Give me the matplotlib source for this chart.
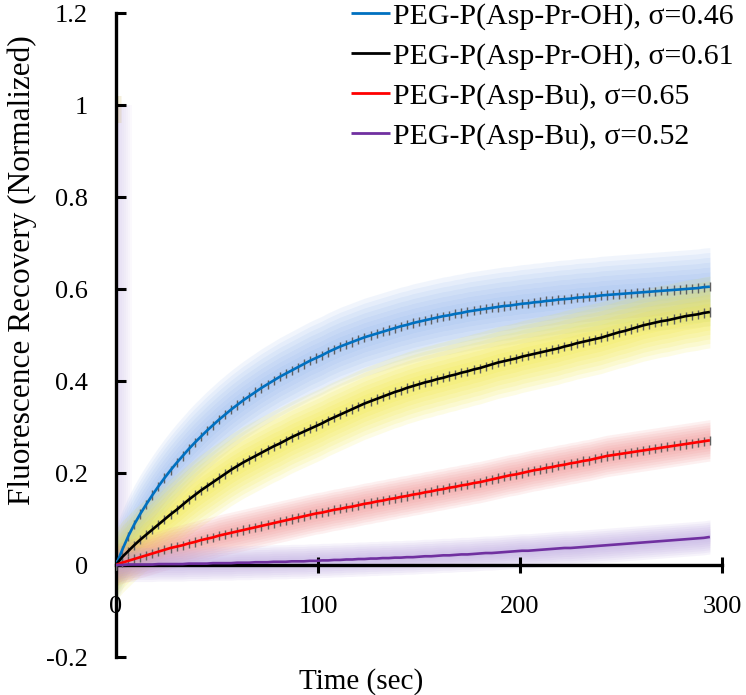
"""FRAP recovery curves: normalized fluorescence recovery vs time"""

import numpy as np
import matplotlib
matplotlib.use("Agg")
import matplotlib.pyplot as plt

plt.rcParams['font.family'] = ['Liberation Serif', 'DejaVu Serif']
plt.rcParams['axes.unicode_minus'] = False

# sampling times (sec), one frame every 3 s
time_s = np.arange(0, 295, 3)

labels = [
    "PEG-P(Asp-Pr-OH), σ=0.46",
    "PEG-P(Asp-Pr-OH), σ=0.61",
    "PEG-P(Asp-Bu), σ=0.65",
    "PEG-P(Asp-Bu), σ=0.52",
]

pr_oh_046 = [
    0.000, 0.032, 0.062, 0.088, 0.111, 0.132, 0.152, 0.171, 0.189, 0.206,
    0.222, 0.237, 0.252, 0.266, 0.279, 0.292, 0.304, 0.316, 0.327, 0.338,
    0.348, 0.358, 0.367, 0.376, 0.385, 0.393, 0.401, 0.409, 0.416, 0.423,
    0.430, 0.437, 0.444, 0.450, 0.456, 0.463, 0.469, 0.475, 0.480, 0.485,
    0.490, 0.495, 0.499, 0.503, 0.507, 0.511, 0.515, 0.519, 0.522, 0.526,
    0.529, 0.532, 0.535, 0.538, 0.541, 0.543, 0.546, 0.548, 0.551, 0.553,
    0.555, 0.557, 0.559, 0.561, 0.563, 0.564, 0.566, 0.568, 0.569, 0.571,
    0.572, 0.574, 0.575, 0.577, 0.578, 0.579, 0.581, 0.582, 0.583, 0.584,
    0.586, 0.587, 0.588, 0.589, 0.590, 0.591, 0.592, 0.593, 0.594, 0.595,
    0.596, 0.597, 0.598, 0.599, 0.600, 0.601, 0.602, 0.604, 0.605,
]

pr_oh_061 = [
    0.000, 0.017, 0.030, 0.043, 0.055, 0.066, 0.077, 0.088, 0.099, 0.110,
    0.120, 0.131, 0.142, 0.152, 0.162, 0.171, 0.180, 0.189, 0.198, 0.207,
    0.215, 0.223, 0.230, 0.237, 0.244, 0.251, 0.258, 0.264, 0.271, 0.278,
    0.284, 0.290, 0.296, 0.302, 0.308, 0.315, 0.321, 0.327, 0.333, 0.339,
    0.345, 0.351, 0.356, 0.361, 0.366, 0.371, 0.376, 0.380, 0.385, 0.389,
    0.393, 0.397, 0.400, 0.404, 0.407, 0.411, 0.414, 0.418, 0.421, 0.425,
    0.428, 0.432, 0.436, 0.440, 0.443, 0.446, 0.449, 0.453, 0.456, 0.459,
    0.462, 0.465, 0.468, 0.471, 0.475, 0.478, 0.482, 0.485, 0.488, 0.491,
    0.494, 0.498, 0.502, 0.506, 0.509, 0.513, 0.517, 0.521, 0.524, 0.527,
    0.530, 0.532, 0.535, 0.538, 0.541, 0.543, 0.545, 0.548, 0.550,
]

bu_065 = [
    0.000, 0.005, 0.009, 0.013, 0.017, 0.021, 0.025, 0.029, 0.033, 0.037,
    0.040, 0.043, 0.047, 0.050, 0.054, 0.057, 0.060, 0.064, 0.067, 0.070,
    0.073, 0.076, 0.079, 0.082, 0.085, 0.088, 0.091, 0.094, 0.097, 0.100,
    0.103, 0.106, 0.109, 0.112, 0.114, 0.117, 0.120, 0.122, 0.125, 0.127,
    0.130, 0.133, 0.135, 0.138, 0.140, 0.143, 0.145, 0.148, 0.150, 0.153,
    0.155, 0.158, 0.160, 0.163, 0.165, 0.168, 0.170, 0.173, 0.175, 0.178,
    0.180, 0.183, 0.186, 0.189, 0.192, 0.195, 0.197, 0.200, 0.203, 0.206,
    0.208, 0.211, 0.213, 0.216, 0.218, 0.221, 0.223, 0.226, 0.228, 0.231,
    0.234, 0.237, 0.239, 0.241, 0.243, 0.245, 0.247, 0.249, 0.251, 0.253,
    0.255, 0.257, 0.259, 0.261, 0.263, 0.265, 0.267, 0.269, 0.271,
]

bu_052 = [
    0.000, 0.000, 0.001, 0.001, 0.001, 0.001, 0.001, 0.002, 0.002, 0.002,
    0.002, 0.002, 0.003, 0.003, 0.003, 0.003, 0.004, 0.004, 0.004, 0.004,
    0.005, 0.005, 0.005, 0.006, 0.006, 0.006, 0.007, 0.007, 0.007, 0.008,
    0.008, 0.008, 0.009, 0.009, 0.010, 0.010, 0.011, 0.011, 0.012, 0.012,
    0.013, 0.013, 0.014, 0.014, 0.015, 0.015, 0.016, 0.016, 0.017, 0.017,
    0.018, 0.019, 0.019, 0.020, 0.021, 0.021, 0.022, 0.023, 0.023, 0.024,
    0.025, 0.026, 0.026, 0.027, 0.028, 0.029, 0.030, 0.031, 0.031, 0.032,
    0.033, 0.034, 0.035, 0.036, 0.037, 0.037, 0.038, 0.039, 0.040, 0.041,
    0.042, 0.043, 0.044, 0.045, 0.046, 0.047, 0.048, 0.049, 0.050, 0.051,
    0.052, 0.053, 0.054, 0.055, 0.056, 0.057, 0.058, 0.059, 0.061,
]

# error bar half-heights and spread of the shaded band, per series
err_bars = [0.010, 0.010, 0.010, 0.0]
band_spread = [0.085, 0.078, 0.045, 0.037]
prebleach = 1.0  # intensity before bleaching (t = 0)

series = [pr_oh_046, pr_oh_061, bu_065, bu_052]
line_colors = ['#0070c0', '#000000', '#ff0000', '#7030a0']
band_colors = ['#8fb4ee', '#f2e830', '#f08a8a', '#b9a4e0']


def glow(ax, x, y, half, color, n=8, alpha=0.12):
    """soft band: stacked fills of growing width"""
    x = np.asarray(x)
    y = np.asarray(y)
    for k in range(1, n + 1):
        w = half * k / n
        ax.fill_between(x, y - w, y + w, color=color, alpha=alpha, lw=0, zorder=1)


fig = plt.figure(figsize=(7.46, 6.95), dpi=100)
ax = fig.add_axes([116 / 746, 1 - 657 / 695, 606 / 746, 644 / 695])

# glow along the bleach drop at t = 0
for k in range(1, 9):
    w = 8 * k / 8
    ax.fill_betweenx([0, prebleach], -w, w, color='#c8b8ea', alpha=0.07, lw=0, zorder=1)
for k in range(1, 5):
    ax.fill_betweenx([prebleach - 0.04, prebleach + 0.02], -3 * k / 4, 3 * k / 4,
                     color='#d8c070', alpha=0.12, lw=0, zorder=1)

for vals, half, bc in zip(series, band_spread, band_colors):
    glow(ax, time_s, vals, half, bc)

for vals, err, lc, lab in zip(series, err_bars, line_colors, labels):
    if err > 0:
        ax.errorbar(time_s, vals, yerr=err, fmt='none', ecolor='#606060',
                    elinewidth=1.0, capsize=0, zorder=3)
    ax.plot(time_s, vals, color=lc, lw=1.9, label=lab, zorder=4,
            solid_capstyle='butt')

ax.set_xlim(0, 300)
ax.set_ylim(-0.2, 1.2)
ax.set_xticks([0, 100, 200, 300])
ax.set_yticks([-0.2, 0, 0.2, 0.4, 0.6, 0.8, 1.0, 1.2])
ax.yaxis.set_major_formatter(plt.FuncFormatter(lambda v, p: f"{v:g}"))

for s in ['top', 'right']:
    ax.spines[s].set_visible(False)
ax.spines['bottom'].set_position(('data', 0))
ax.spines['left'].set_linewidth(2.4)
ax.spines['bottom'].set_linewidth(2.4)

ax.tick_params(axis='y', direction='in', length=7, width=2.2, labelsize=19, pad=20)
ax.tick_params(axis='x', direction='inout', length=12, width=2.2, labelsize=19, pad=16)

ax.set_xlabel('Time (sec)', fontsize=21)
ax.xaxis.set_label_coords(0.405, -0.017)
ax.set_ylabel('Fluorescence Recovery (Normalized)', fontsize=22.5)
ax.yaxis.set_label_coords(-0.13, 0.60)

leg = ax.legend(loc='upper right', bbox_to_anchor=(737 / 746, 1.0),
                bbox_transform=fig.transFigure, frameon=False, fontsize=21.5,
                handlelength=1.3, handletextpad=0.12, labelspacing=0.42,
                borderpad=0.1, borderaxespad=0)
for h in leg.legend_handles:
    h.set_linewidth(2.0)

plt.savefig('out.png', dpi=100)
